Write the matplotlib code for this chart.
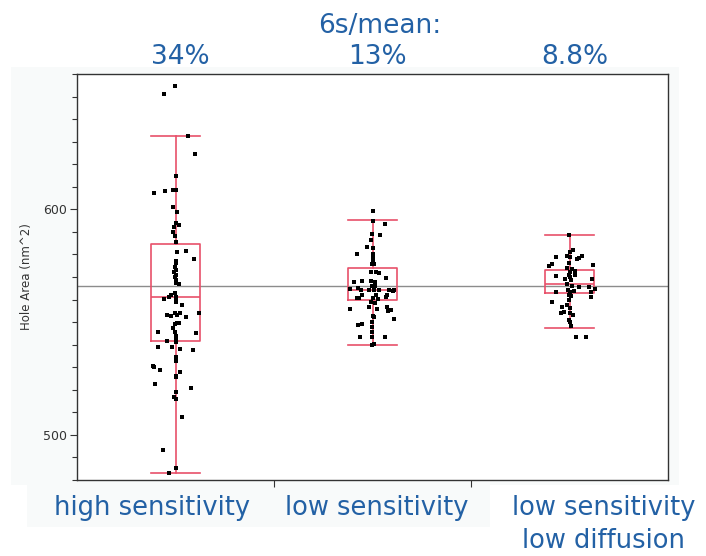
import matplotlib
matplotlib.use("Agg")
import matplotlib.pyplot as plt
from matplotlib.patches import Rectangle
from matplotlib.ticker import MultipleLocator, FixedLocator, NullFormatter

# ---------------- data ----------------
categories = ["high sensitivity", "low sensitivity", "low sensitivity\nlow diffusion"]
ratio_labels = ["34%", "13%", "8.8%"]
header = "6s/mean:"
y_label = "Hole Area (nm^2)"
y_ticks = [500, 600]
grand_mean = 565.9

# box statistics
box_q1 = [541.5, 559.6, 562.9]
box_med = [561.0, 564.4, 567.1]
box_q3 = [584.8, 574.2, 573.0]
box_lo = [483.0, 539.7, 547.4]
box_hi = [632.4, 595.1, 588.4]

# group 1 points: values and horizontal jitter (category units)
g1_values = [654.8, 651.0, 632.4, 624.4, 614.7, 607.4, 608.0, 608.7, 608.7, 600.9,
             599.0, 593.9, 593.2, 592.1, 589.9, 588.0, 585.5, 581.5, 581.0, 578.1,
             577.0, 576.0, 574.5, 573.0, 572.0, 571.0, 570.2, 568.7, 566.7, 567.3,
             562.8, 562.2, 561.3, 560.4, 561.3, 559.9, 558.8, 557.8, 553.3, 552.9,
             553.9, 553.3, 553.9, 552.1, 553.9, 549.6, 549.5, 549.2, 547.4, 545.8,
             545.5, 545.2, 544.0, 542.5, 541.8, 541.3, 539.1, 539.1, 538.2, 537.8,
             534.4, 532.9, 530.7, 529.9, 528.8, 528.0, 526.2, 525.5, 522.5, 520.8,
             518.8, 516.9, 515.9, 508.1, 493.3, 485.2, 483.0]
g1_jitter = [-0.003, -0.058, 0.063, 0.100, 0.002, -0.107, -0.052, -0.014, 0.005, -0.012,
             0.010, 0.000, 0.019, -0.007, -0.014, -0.003, 0.002, 0.051, 0.007, 0.093,
             0.000, 0.005, -0.003, 0.000, -0.008, 0.003, -0.003, 0.003, 0.017, 0.000,
             -0.003, -0.025, -0.034, -0.058, 0.003, 0.000, 0.000, 0.034, -0.042, -0.025,
             -0.003, 0.008, 0.022, 0.051, 0.118, 0.008, 0.017, -0.003, -0.014, -0.088,
             -0.003, 0.105, 0.000, 0.005, -0.042, 0.000, -0.088, -0.017, 0.025, 0.088,
             0.000, 0.000, -0.115, -0.110, -0.081, 0.022, 0.000, 0.000, -0.102, 0.081,
             0.000, -0.008, 0.003, 0.034, -0.064, 0.000, -0.034]

g2_values = [599.3, 594.8, 593.3, 589.2, 588.6, 586.2, 583.2, 582.7, 580.3, 580.0,
             578.3, 576.6, 575.9, 575.9, 572.1, 572.1, 571.7, 569.5, 568.3, 568.0,
             568.3, 567.7, 565.8, 565.8, 564.4, 564.7, 565.0, 564.4, 564.4, 564.4,
             564.4, 564.4, 563.8, 561.8, 561.8, 561.8, 561.0, 560.6, 560.6, 560.6,
             560.2, 558.7, 558.3, 556.8, 555.9, 555.9, 556.6, 555.4, 555.1, 552.9,
             552.1, 551.3, 549.9, 547.7, 548.6, 549.0, 545.5, 543.3, 543.3, 543.3,
             540.0, 540.3]
g2_jitter = [0.003, 0.005, 0.061, -0.003, 0.039, -0.008, -0.030, 0.000, -0.081, 0.000,
             0.000, 0.000, -0.003, 0.008, -0.008, 0.017, 0.034, 0.068, -0.054, -0.093,
             -0.008, 0.014, -0.003, 0.014, -0.059, -0.115, -0.076, -0.017, 0.008, 0.034,
             0.085, 0.110, 0.102, -0.051, 0.017, 0.076, 0.068, -0.081, -0.071, 0.003,
             0.030, -0.008, 0.014, -0.017, -0.115, 0.025, 0.076, 0.093, 0.081, 0.000,
             0.008, 0.110, -0.003, -0.003, -0.076, -0.054, -0.003, -0.003, -0.064, 0.061,
             -0.003, 0.008]

g3_values = [588.4, 581.8, 581.3, 578.8, 579.5, 579.2, 578.0, 578.4, 578.9, 575.6,
             574.8, 576.0, 575.3, 573.8, 573.5, 572.7, 572.0, 570.4, 570.7, 571.0,
             570.0, 569.3, 569.0, 568.7, 566.8, 566.0, 565.7, 565.4, 564.5, 563.5,
             564.2, 563.4, 564.0, 563.4, 562.2, 561.4, 561.0, 558.9, 559.6, 557.5,
             556.6, 556.2, 554.7, 553.9, 553.9, 553.2, 551.1, 550.0, 548.1, 543.6,
             543.6]
g3_jitter = [-0.003, 0.017, 0.005, -0.071, -0.012, 0.064, 0.039, 0.047, 0.005, -0.091,
             -0.105, -0.003, 0.118, -0.012, 0.014, 0.030, 0.005, -0.071, 0.027, -0.003,
             0.005, 0.115, -0.024, 0.010, -0.012, 0.014, 0.047, 0.098, 0.129, -0.071,
             -0.007, 0.005, 0.022, 0.107, -0.003, 0.010, 0.107, -0.091, -0.003, -0.012,
             -0.037, 0.000, -0.029, -0.041, 0.005, 0.017, -0.003, 0.005, 0.010, 0.034,
             0.086]

# ---------------- styling ----------------
W, H = 706, 556
BLUE = "#2361a5"
RED = "#e8506a"

fig = plt.figure(figsize=(W / 100, H / 100), dpi=100)
fig.patches.append(Rectangle((11 / W, 1 - 485 / H), (679 - 11) / W, (485 - 67) / H,
                             transform=fig.transFigure, facecolor="#f8fafa",
                             edgecolor="none", zorder=-1))
fig.patches.append(Rectangle((27 / W, 1 - 527 / H), (490 - 27) / W, (527 - 485) / H,
                             transform=fig.transFigure, facecolor="#f8fafa",
                             edgecolor="none", zorder=-1))

ax = fig.add_axes([77 / W, 1 - 480 / H, (668 - 77) / W, (480 - 74) / H])
ax.set_zorder(1)
ax.set_facecolor("white")
ax.set_xlim(-0.5, 2.5)
ax.set_ylim(480, 660)

ax.axhline(grand_mean, color="#8c8c8c", lw=1.0, zorder=1)

stats = []
for i in range(3):
    stats.append(dict(q1=box_q1[i], med=box_med[i], q3=box_q3[i],
                      whislo=box_lo[i], whishi=box_hi[i], fliers=[]))
ax.bxp(stats, positions=[0, 1, 2], widths=0.25, capwidths=0.25, showfliers=False,
       boxprops=dict(color=RED, lw=1.2), whiskerprops=dict(color=RED, lw=1.2),
       capprops=dict(color=RED, lw=1.2), medianprops=dict(color=RED, lw=1.2),
       manage_ticks=False, zorder=2)

for i, (vals, jit) in enumerate([(g1_values, g1_jitter), (g2_values, g2_jitter),
                                 (g3_values, g3_jitter)]):
    ax.plot([i + j for j in jit], vals, "s", ms=3.1, color="black", mew=0, zorder=3)

for s in ax.spines.values():
    s.set_color("#333333")
    s.set_linewidth(1.0)

ax.yaxis.set_major_locator(FixedLocator(y_ticks))
ax.yaxis.set_minor_locator(MultipleLocator(10))
ax.tick_params(axis="y", which="major", length=5, width=0.8, color="#333333",
               labelsize=9, labelcolor="#333333", pad=2)
ax.tick_params(axis="y", which="minor", length=3.5, width=0.8, color="#333333")
ax.set_xticks([0.5, 1.5])
ax.xaxis.set_major_formatter(NullFormatter())
ax.tick_params(axis="x", length=5, width=0.8, color="#333333")

fig.text(27 / W, 1 - 277 / H, y_label, rotation=90, ha="center", va="center",
         fontsize=8.5, color="#333333")

xt = ax.get_xaxis_transform()
ax.text(1.038, 1.101, header, transform=xt, ha="center", va="baseline",
        fontsize=19, color=BLUE, clip_on=False)
for i, lab in enumerate(ratio_labels):
    ax.text(i + 0.025, 1.0246, lab, transform=xt, ha="center", va="baseline",
            fontsize=19, color=BLUE, clip_on=False)

label_x = [-0.119, 1.023, 2.175]
for i, lab in enumerate(categories):
    lines = lab.split("\n")
    for k, ln in enumerate(lines):
        ax.text(label_x[i], -0.0862 - 0.0813 * k, ln, transform=xt, ha="center",
                va="baseline", fontsize=18.5, color=BLUE, clip_on=False)

fig.savefig("out.png", dpi=100)
